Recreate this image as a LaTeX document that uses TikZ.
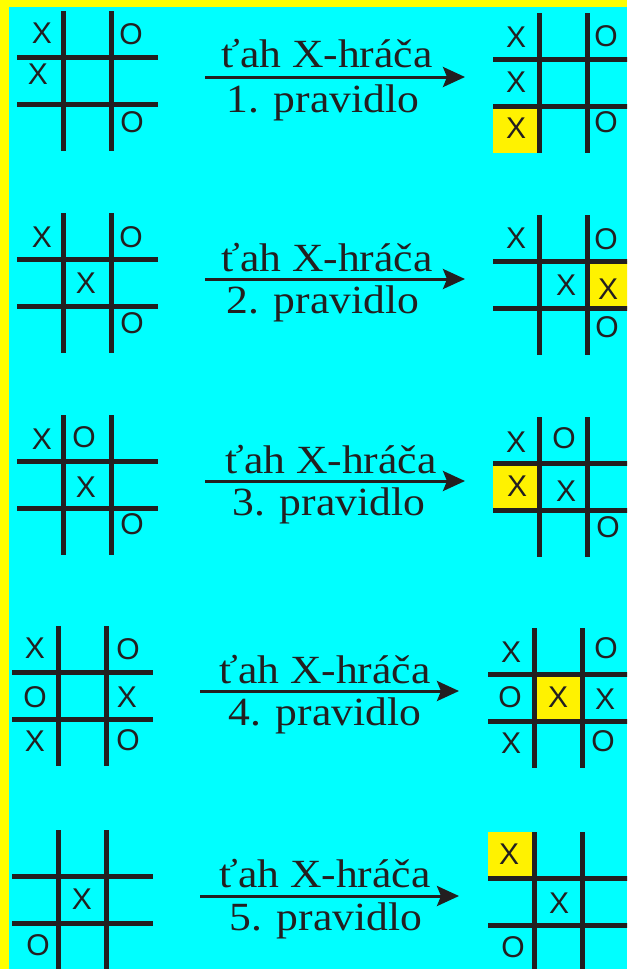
\documentclass[tikz,border=0pt]{standalone}
\usepackage{fontspec}
\usetikzlibrary{arrows.meta}
\newfontfamily\labfont[FakeStretch=1.09]{Liberation Serif}
\newfontfamily\xofont{Liberation Sans}
\definecolor{bgcyan}{HTML}{00FFFF}
\definecolor{bordyel}{HTML}{FFFF00}
\definecolor{cellyel}{HTML}{FFF200}
\definecolor{ink}{HTML}{231F20}
\newcommand\ttgrid[2]{%
  \draw[gridline] (#1+46.5,#2) -- ++(0,140);
  \draw[gridline] (#1+94.5,#2) -- ++(0,140);
  \draw[gridline] (#1,#2+46.5) -- ++(141,0);
  \draw[gridline] (#1,#2+93.5) -- ++(141,0);
}
\begin{document}
\begin{tikzpicture}[x=1pt,y=-1pt,
  gridline/.style={draw=ink,line width=5pt},
  xo/.style={text=ink,font=\xofont\fontsize{30}{32}\selectfont,inner sep=0pt,anchor=center},
  lab/.style={text=ink,font=\labfont\fontsize{40}{44}\selectfont,inner sep=0pt,anchor=base},
  arr/.style={draw=ink,line width=3pt,-{Stealth[length=22pt,width=20pt,inset=4pt]}},
  hicell/.style={fill=cellyel}]
\useasboundingbox (0,0) rectangle (627,969);
\fill[bgcyan] (0,0) rectangle (627,969);
\fill[bordyel] (0,0) rectangle (9,969);
\fill[bordyel] (0,0) rectangle (627,7);
\clip (0,0) rectangle (627,969);
% highlighted cells
\fill[hicell] (493,106) rectangle (539,153);
\fill[hicell] (587,261) rectangle (630,309);
\fill[hicell] (493,463) rectangle (539,510);
\fill[hicell] (534,674) rectangle (582,721);
\fill[hicell] (488,832) rectangle (534,879);
% grids
\ttgrid{17}{11}
\ttgrid{493}{13}
\ttgrid{17}{213}
\ttgrid{493}{215}
\ttgrid{17}{415}
\ttgrid{493}{417}
\ttgrid{12}{626}
\ttgrid{488}{628}
\ttgrid{12}{830}
\ttgrid{488}{832}
% row 1
\node[xo] (l1a) at (42,33) {X};
\node[xo] (l1b) at (38,74) {X};
\node[xo] (l1c) at (131,34) {O};
\node[xo] (l1d) at (132,122) {O};
\node[xo] (r1a) at (516,37) {X};
\node[xo] (r1b) at (516,82) {X};
\node[xo] (r1c) at (516,128) {X};
\node[xo] (r1d) at (606,36) {O};
\node[xo] (r1e) at (606,122) {O};
% row 2
\node[xo] (l2a) at (42,237) {X};
\node[xo] (l2b) at (131,237) {O};
\node[xo] (l2c) at (86,283) {X};
\node[xo] (l2d) at (132,323) {O};
\node[xo] (r2a) at (516,238) {X};
\node[xo] (r2b) at (606,239) {O};
\node[xo] (r2c) at (566,285) {X};
\node[xo] (r2d) at (608,289) {X};
\node[xo] (r2e) at (607,327) {O};
% row 3
\node[xo] (l3a) at (42,439) {X};
\node[xo] (l3b) at (84,437) {O};
\node[xo] (l3c) at (86,487) {X};
\node[xo] (l3d) at (132,524) {O};
\node[xo] (r3a) at (516,442) {X};
\node[xo] (r3b) at (564,438) {O};
\node[xo] (r3c) at (517,486) {X};
\node[xo] (r3d) at (566,491) {X};
\node[xo] (r3e) at (608,527) {O};
% row 4
\node[xo] (l4a) at (35,648) {X};
\node[xo] (l4b) at (128,649) {O};
\node[xo] (l4c) at (35,697) {O};
\node[xo] (l4d) at (127,697) {X};
\node[xo] (l4e) at (35,741) {X};
\node[xo] (l4f) at (128,740) {O};
\node[xo] (r4a) at (511,652) {X};
\node[xo] (r4b) at (606,648) {O};
\node[xo] (r4c) at (510,697) {O};
\node[xo] (r4d) at (558,697) {X};
\node[xo] (r4e) at (605,699) {X};
\node[xo] (r4f) at (511,743) {X};
\node[xo] (r4g) at (603,741) {O};
% row 5
\node[xo] (l5a) at (82,899) {X};
\node[xo] (l5b) at (38,945) {O};
\node[xo] (r5a) at (509,854) {X};
\node[xo] (r5b) at (559,903) {X};
\node[xo] (r5c) at (513,947) {O};
% arrows and labels
\coordinate (a1s) at (205,77);  \coordinate (a1e) at (465,77);
\coordinate (a2s) at (205,279); \coordinate (a2e) at (465,279);
\coordinate (a3s) at (205,481); \coordinate (a3e) at (465,481);
\coordinate (a4s) at (200,691); \coordinate (a4e) at (459,691);
\coordinate (a5s) at (200,896); \coordinate (a5e) at (459,896);
\draw[arr] (a1s) -- (a1e);
\draw[arr] (a2s) -- (a2e);
\draw[arr] (a3s) -- (a3e);
\draw[arr] (a4s) -- (a4e);
\draw[arr] (a5s) -- (a5e);
\node[lab] (t1) at (327,67) {ťah X-hráča};
\node[lab] (p1) at (323,112) {1. pravidlo};
\node[lab] (t2) at (327,271) {ťah X-hráča};
\node[lab] (p2) at (323,313) {2. pravidlo};
\node[lab] (t3) at (331,473) {ťah X-hráča};
\node[lab] (p3) at (329,515) {3. pravidlo};
\node[lab] (t4) at (325,683) {ťah X-hráča};
\node[lab] (p4) at (325,725) {4. pravidlo};
\node[lab] (t5) at (325,887) {ťah X-hráča};
\node[lab] (p5) at (326,930) {5. pravidlo};
\end{tikzpicture}
\end{document}
